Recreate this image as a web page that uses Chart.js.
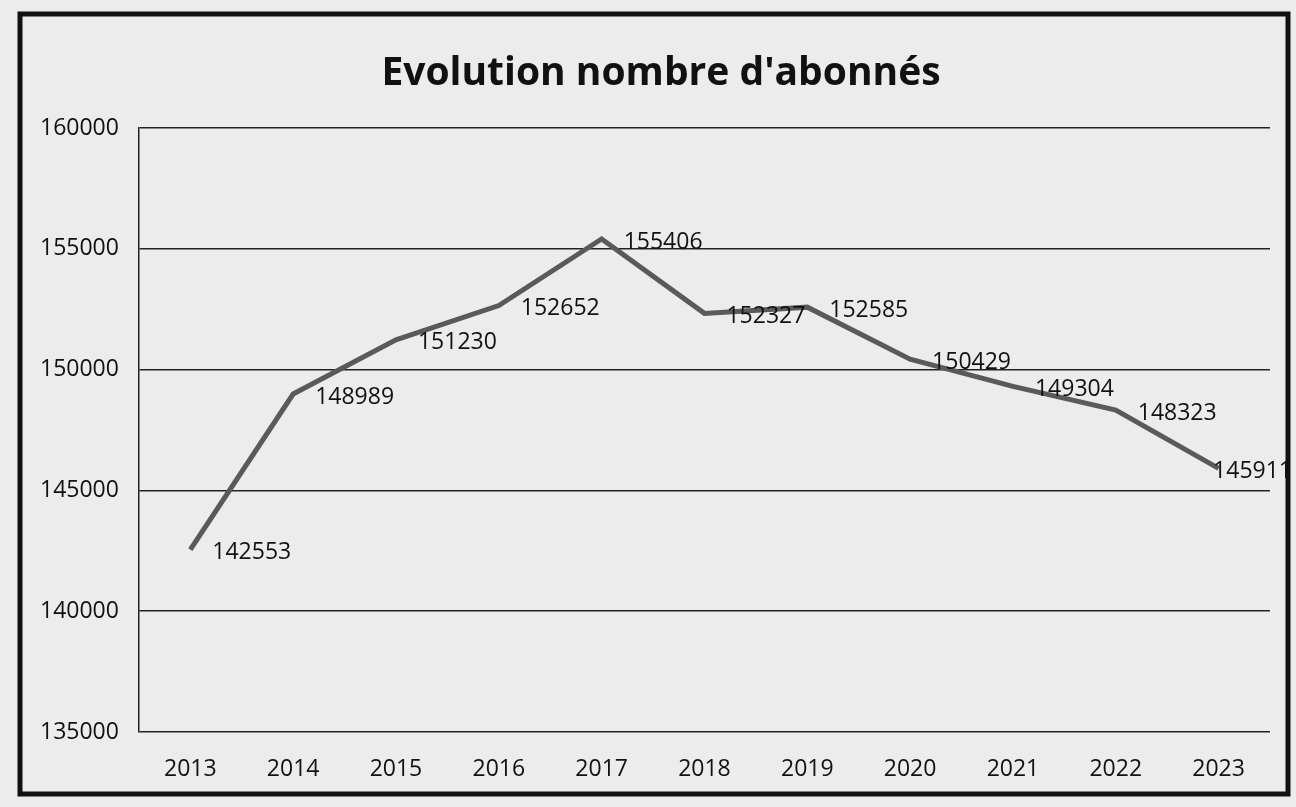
<!DOCTYPE html>
<html>
<head>
<meta charset="utf-8">
<script src="https://cdn.jsdelivr.net/npm/chart.js@4.4.0/dist/chart.umd.min.js"></script>
<style>
  html, body { margin: 0; padding: 0; background: #ececec; }
  #wrap { width: 1296px; height: 807px; position: relative; }
</style>
</head>
<body>
<div id="wrap"><canvas id="chart" width="1296" height="807"></canvas></div>
<script>
const years = ['2013', '2014', '2015', '2016', '2017', '2018', '2019', '2020', '2021', '2022', '2023'];
const abonnes = [142553, 148989, 151230, 152652, 155406, 152327, 152585, 150429, 149304, 148323, 145911];
const yTicks = [135000, 140000, 145000, 150000, 155000, 160000];
const titre = "Evolution nombre d'abonnés";

// black frame round the whole chart, like the photographed one, plus the title
const framePlugin = {
  id: 'frame',
  beforeDraw(chart) {
    const ctx = chart.ctx;
    ctx.save();
    ctx.fillStyle = '#ececec';
    ctx.fillRect(0, 0, chart.width, chart.height);
    ctx.strokeStyle = '#111';
    ctx.lineWidth = 5;
    ctx.strokeRect(20, 14, 1268, 780);
    // title sits a little right of the canvas centre in the original
    ctx.font = 'bold 39px "Open Sans"';
    ctx.fillStyle = '#111';
    ctx.textAlign = 'center';
    ctx.textBaseline = 'middle';
    ctx.fillText(titre, 661, 74);
    ctx.restore();
  }
};

// value labels to the right of each point
const valueLabels = {
  id: 'valueLabels',
  afterDatasetsDraw(chart) {
    const ctx = chart.ctx;
    const meta = chart.getDatasetMeta(0);
    ctx.save();
    ctx.font = '23px "Open Sans"';
    ctx.fillStyle = '#111';
    ctx.textBaseline = 'middle';
    ctx.textAlign = 'left';
    meta.data.forEach((pt, i) => {
      const txt = String(abonnes[i]);
      const w = ctx.measureText(txt).width;
      let x = pt.x + 22;
      if (x + w > 1292) x = 1292 - w;
      ctx.fillText(txt, x, pt.y + 3);
    });
    ctx.restore();
  }
};

new Chart(document.getElementById('chart'), {
  type: 'line',
  data: {
    labels: years,
    datasets: [{
      data: abonnes,
      borderColor: '#5a5a5a',
      borderWidth: 5,
      pointRadius: 0,
      tension: 0
    }]
  },
  options: {
    responsive: false,
    animation: false,
    layout: { padding: { top: 128, left: 20, right: 26, bottom: 0 } },
    plugins: {
      legend: { display: false },
      tooltip: { enabled: false },
      title: { display: false }
    },
    scales: {
      x: {
        offset: true,
        grid: { display: false, drawTicks: false },
        border: { display: false },
        ticks: {
          color: '#111',
          padding: 26,
          font: { family: 'Open Sans', size: 23, lineHeight: 1 }
        }
      },
      y: {
        min: 135000,
        max: 160000,
        afterBuildTicks(axis) { axis.ticks = yTicks.map(v => ({ value: v })); },
        grid: { color: '#222', lineWidth: 1.5, drawTicks: false },
        border: { display: true, color: '#222', width: 1.5 },
        ticks: {
          color: '#111',
          padding: 20,
          font: { family: 'Open Sans', size: 23 },
          callback: v => String(v)
        }
      }
    }
  },
  plugins: [framePlugin, valueLabels]
});
</script>
</body>
</html>
